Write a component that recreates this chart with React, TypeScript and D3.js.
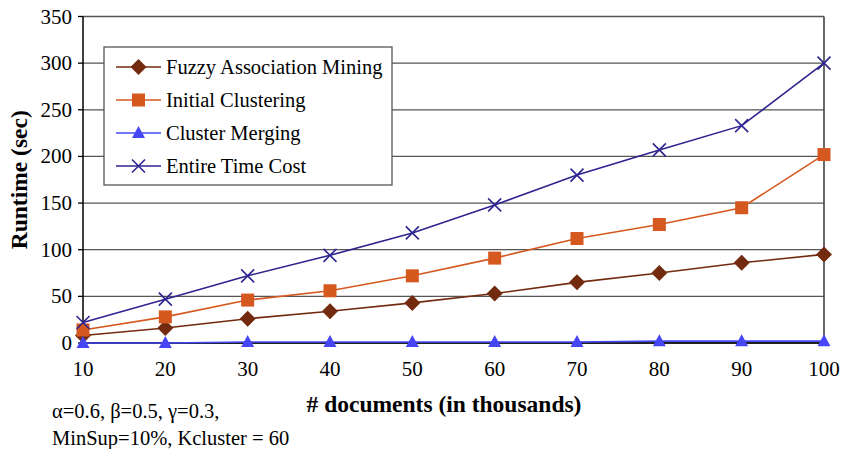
import React from "react";
import * as d3 from "d3";

const docs = [10, 20, 30, 40, 50, 60, 70, 80, 90, 100];
const fuzzyMining = [8, 16, 26, 34, 43, 53, 65, 75, 86, 95];
const initialClustering = [14, 28, 46, 56, 72, 91, 112, 127, 145, 202];
const clusterMerging = [0, 0, 1, 1, 1, 1, 1, 2, 2, 2];
const entireCost = [22, 47, 72, 94, 118, 148, 180, 207, 233, 300];
const yTicks = [0, 50, 100, 150, 200, 250, 300, 350];

const series = [
  { name: "Fuzzy Association Mining", values: fuzzyMining, color: "#722B0F", marker: "diamond" },
  { name: "Initial Clustering", values: initialClustering, color: "#D5581F", marker: "square" },
  { name: "Cluster Merging", values: clusterMerging, color: "#4646F5", marker: "triangle" },
  { name: "Entire Time Cost", values: entireCost, color: "#2E2490", marker: "x" },
];

const W = 841;
const H = 449;
const left = 83;
const right = 824;
const top = 16.5;
const bottom = 343;
const font = "'Liberation Serif', 'Times New Roman', Times, serif";

function Marker({ type, x, y, color }: { type: string; x: number; y: number; color: string }) {
  if (type === "diamond") {
    const s = 8;
    return <path d={`M${x},${y - s}L${x + s},${y}L${x},${y + s}L${x - s},${y}Z`} fill={color} />;
  }
  if (type === "square") {
    const s = 6.5;
    return <rect x={x - s} y={y - s} width={2 * s} height={2 * s} fill={color} />;
  }
  if (type === "triangle") {
    return <path d={`M${x},${y - 7}L${x + 6.5},${y + 5}L${x - 6.5},${y + 5}Z`} fill={color} />;
  }
  const s = 6.5;
  return (
    <path
      d={`M${x - s},${y - s}L${x + s},${y + s}M${x - s},${y + s}L${x + s},${y - s}`}
      stroke={color}
      strokeWidth={1.6}
      fill="none"
    />
  );
}

export default function App() {
  const x = d3.scaleLinear().domain([10, 100]).range([left, right]);
  const y = d3.scaleLinear().domain([0, 350]).range([bottom, top]);
  const line = d3
    .line<number>()
    .x((_, i) => x(docs[i]))
    .y((d) => y(d));

  const legendX = 104;
  const legendY = 47;
  const rowYs = [67, 100, 133, 166];

  return (
    <svg width={W} height={H} style={{ position: "absolute", left: 0, top: 0, background: "#fff" }}>
      {/* horizontal gridlines */}
      {yTicks.map((t) => (
        <line key={t} x1={left} x2={right} y1={y(t)} y2={y(t)} stroke="#555" strokeWidth={1.3} />
      ))}
      {/* right border of plot area */}
      <line x1={right} x2={right} y1={top} y2={bottom} stroke="#444" strokeWidth={1.6} />
      {/* y axis with ticks */}
      <line x1={left} x2={left} y1={top} y2={bottom} stroke="#000" strokeWidth={1.5} />
      {yTicks.map((t) => (
        <g key={t}>
          <line x1={left - 5} x2={left} y1={y(t)} y2={y(t)} stroke="#000" strokeWidth={1.3} />
          <text x={72} y={y(t) + 7} textAnchor="end" fontFamily={font} fontSize={21} fill="#000">
            {t}
          </text>
        </g>
      ))}
      {/* x axis */}
      <line x1={left} x2={right} y1={bottom} y2={bottom} stroke="#000" strokeWidth={1.5} />
      {docs.map((d) => (
        <text key={d} x={x(d)} y={376} textAnchor="middle" fontFamily={font} fontSize={21} fill="#000">
          {d}
        </text>
      ))}

      {/* series */}
      {series.map((s) => (
        <g key={s.name}>
          <path d={line(s.values) || ""} fill="none" stroke={s.color} strokeWidth={1.6} />
          {s.values.map((v, i) => (
            <Marker key={i} type={s.marker} x={x(docs[i])} y={y(v)} color={s.color} />
          ))}
        </g>
      ))}

      {/* legend */}
      <rect x={legendX} y={legendY} width={288} height={138} fill="#fff" stroke="#555" strokeWidth={1.3} />
      {series.map((s, i) => (
        <g key={s.name}>
          <line x1={116} x2={161} y1={rowYs[i]} y2={rowYs[i]} stroke={s.color} strokeWidth={1.6} />
          <Marker type={s.marker} x={138.5} y={rowYs[i]} color={s.color} />
          <text x={166} y={rowYs[i] + 7} fontFamily={font} fontSize={20.5} fill="#000">
            {s.name}
          </text>
        </g>
      ))}

      {/* axis titles */}
      <text
        transform={`translate(27,${(top + bottom) / 2}) rotate(-90)`}
        textAnchor="middle"
        fontFamily={font}
        fontSize={23.5}
        fontWeight="bold"
        fill="#000"
      >
        Runtime (sec)
      </text>
      <text x={444} y={412} textAnchor="middle" fontFamily={font} fontSize={23.5} fontWeight="bold" fill="#000">
        # documents (in thousands)
      </text>

      {/* parameter note */}
      <text x={52} y={418} fontFamily={font} fontSize={20.5} fill="#000">
        α=0.6, β=0.5, γ=0.3,
      </text>
      <text x={52} y={445} fontFamily={font} fontSize={20.5} fill="#000">
        MinSup=10%, Kcluster = 60
      </text>
    </svg>
  );
}
